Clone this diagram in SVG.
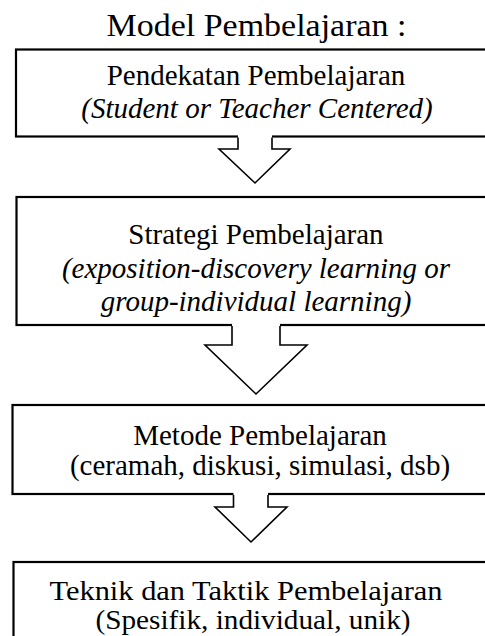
<svg xmlns="http://www.w3.org/2000/svg" width="485" height="636" viewBox="0 0 485 636">
<style>
  .box { fill: #fff; stroke: #000; stroke-width: 2.2; }
  .t { font-family: "Liberation Serif", "Times New Roman", serif; font-size: 29px; fill: #000; text-anchor: middle; }
  .s { font-size: 28px; }
  .i { font-style: italic; }
  .title { font-family: "Liberation Serif", serif; font-size: 32px; fill: #000; text-anchor: middle; }
  .afill { fill: #fff; stroke: none; }
  .aline { fill: none; stroke: #000; stroke-width: 1.6; stroke-linejoin: miter; }
</style>
<rect width="485" height="636" fill="#fff"/>
<text class="title" x="256.5" y="36" textLength="300" lengthAdjust="spacingAndGlyphs">Model Pembelajaran :</text>

<g id="node-pendekatan">
  <rect class="box" x="16" y="49.5" width="490" height="87"/>
  <text class="t" x="256" y="85">Pendekatan Pembelajaran</text>
  <text class="t i" x="257" y="118">(Student or Teacher Centered)</text>
</g>
<g id="node-strategi">
  <rect class="box" x="16.5" y="197" width="490" height="128"/>
  <text class="t" x="256" y="244">Strategi Pembelajaran</text>
  <text class="t i" x="256" y="278">(exposition-discovery learning or</text>
  <text class="t i" x="256" y="311">group-individual learning)</text>
</g>
<g id="node-metode">
  <rect class="box" x="12.5" y="405" width="490" height="89"/>
  <text class="t" x="260" y="445">Metode Pembelajaran</text>
  <text class="t" x="260" y="475">(ceramah, diskusi, simulasi, dsb)</text>
</g>
<g id="node-teknik">
  <rect class="box" x="13.5" y="562" width="490" height="100"/>
  <text class="t s" x="246" y="600" textLength="393" lengthAdjust="spacingAndGlyphs">Teknik dan Taktik Pembelajaran</text>
  <text class="t s" x="253" y="629" textLength="315" lengthAdjust="spacingAndGlyphs">(Spesifik, individual, unik)</text>
</g>

<g id="connectors">
  <polygon class="afill" points="238,135 272,135 272,149 290,149 255,183 219,149 238,149"/>
  <path class="aline" d="M238,137.6 V149 H219 L255,183 L290,149 H272 V137.6"/>
  <polygon class="afill" points="232,323 280,323 280,345 307,345 256,394 205,345 232,345"/>
  <path class="aline" d="M232,326 V345 H205 L256,394 L307,345 H280 V326"/>
  <polygon class="afill" points="233.5,492 268,492 268,507 287,507 251,542 215,507 233.5,507"/>
  <path class="aline" d="M233.5,495 V507 H215 L251,542 L287,507 H268 V495"/>
</g>
</svg>
